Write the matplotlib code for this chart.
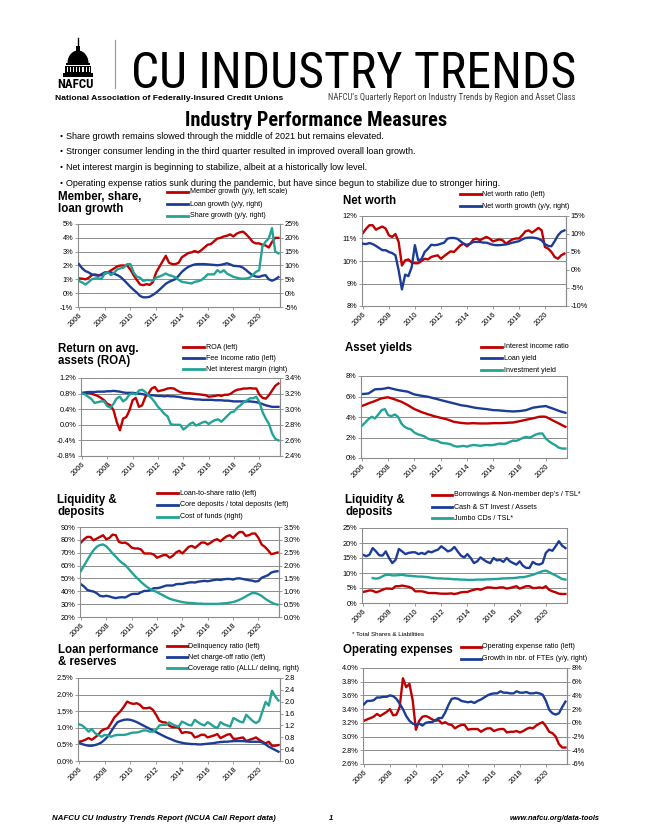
#!/usr/bin/env python3
"""
Recreate the NAFCU 'CU Industry Trends' page: eight small quarterly trend panels.
"""

import numpy as np
import matplotlib
matplotlib.use("Agg")
import matplotlib.pyplot as plt
from matplotlib import font_manager
from matplotlib.lines import Line2D
from matplotlib.patches import Rectangle, Polygon
from matplotlib.ticker import FuncFormatter

# ---------------------------------------------------------------------------
# Data: quarterly values, 2006Q1 .. 2021Q3 (one row per year)
# ---------------------------------------------------------------------------
YEAR_TICKS = [2006, 2008, 2010, 2012, 2014, 2016, 2018, 2020]

# Member, share, loan growth
member_growth = [1.07, 1.05, 1.00, 1.10, 1.30, 1.35, 1.30, 1.30, 1.40, 1.50, 1.65, 1.80,
                 1.95, 2.00, 2.00, 2.00, 1.70, 1.30, 0.95, 0.63, 0.58, 0.65, 0.60, 0.80,
                 1.50, 1.90, 2.30, 2.70, 2.20, 2.10, 2.10, 2.20, 2.60, 2.75, 2.90, 2.95,
                 3.05, 2.95, 3.10, 3.30, 3.50, 3.55, 3.75, 3.95, 4.00, 4.10, 4.15, 4.25,
                 4.10, 4.30, 4.40, 4.45, 4.25, 4.00, 3.70, 3.60, 3.60, 3.50, 3.45, 3.30,
                 3.70, 4.00, 4.00]
loan_growth = [10.5, 9.0, 8.0, 7.5, 6.8, 6.5, 6.3, 6.8, 7.5, 7.6, 7.5, 7.0,
               6.5, 5.8, 4.7, 3.5, 2.3, 1.2, 0.2, -1.0, -1.5, -1.5, -1.3, -0.6,
               0.2, 1.2, 2.3, 3.4, 4.1, 4.6, 5.1, 6.3, 7.7, 8.7, 9.5, 10.0,
               10.4, 10.5, 10.5, 10.5, 10.4, 10.3, 10.2, 10.1, 10.2, 10.5, 10.8, 10.4,
               9.9, 9.8, 9.7, 9.2, 8.3, 7.3, 6.5, 6.0, 5.9, 6.3, 6.5, 5.0,
               4.5, 5.0, 5.8]
share_growth = [4.4, 3.9, 3.1, 4.0, 5.0, 5.3, 5.4, 5.1, 7.1, 7.5, 6.5, 7.5,
                8.7, 9.0, 9.3, 10.5, 10.5, 7.5, 5.9, 5.6, 4.4, 4.8, 4.7, 4.5,
                5.6, 6.0, 6.5, 7.1, 6.5, 6.2, 5.7, 4.8, 4.1, 3.9, 3.7, 3.5,
                4.1, 4.3, 4.7, 5.6, 6.8, 6.8, 6.8, 8.3, 7.5, 8.3, 7.1, 6.5,
                5.9, 5.6, 5.3, 5.2, 5.3, 5.6, 6.5, 7.7, 8.3, 16.8, 18.6, 19.8,
                23.5, 15.0, 14.4]

# Net worth
net_worth_ratio = [11.24, 11.44, 11.59, 11.59, 11.39, 11.47, 11.53, 11.44, 11.14, 11.07, 11.20, 10.84,
                   9.80, 10.03, 10.07, 9.93, 9.90, 9.90, 10.00, 10.10, 10.07, 10.18, 10.22, 10.25,
                   10.10, 10.22, 10.33, 10.43, 10.40, 10.55, 10.70, 10.77, 10.65, 10.77, 10.96, 11.00,
                   10.92, 11.00, 11.07, 11.00, 10.87, 10.92, 10.96, 10.92, 10.77, 10.87, 10.96, 11.00,
                   11.00, 11.14, 11.32, 11.36, 11.26, 11.36, 11.47, 11.36, 10.62, 10.55, 10.40, 10.18,
                   10.10, 10.25, 10.33]
net_worth_growth = [7.3, 7.2, 7.5, 7.2, 6.7, 6.1, 5.5, 5.5, 5.0, 4.7, 4.1, -0.1,
                    -5.4, -1.3, -1.7, 0.8, 6.9, 2.7, 3.0, 5.0, 5.9, 7.0, 6.9, 7.0,
                    7.3, 7.6, 8.7, 8.9, 8.9, 8.7, 8.0, 7.3, 7.0, 7.3, 7.8, 7.8,
                    7.8, 7.6, 7.6, 7.3, 7.0, 6.9, 6.9, 7.0, 7.1, 7.3, 7.6, 7.8,
                    8.0, 8.5, 8.9, 9.0, 9.0, 8.9, 8.7, 8.2, 7.2, 6.7, 6.6, 8.0,
                    9.6, 10.6, 11.0]

# Return on average assets
roa = [0.80, 0.81, 0.82, 0.80, 0.77, 0.74, 0.69, 0.63, 0.54, 0.50, 0.37, 0.07,
       -0.14, 0.16, 0.20, 0.37, 0.63, 0.69, 0.46, 0.50, 0.71, 0.80, 0.93, 0.97,
       0.86, 0.88, 0.90, 0.93, 0.94, 0.93, 0.88, 0.84, 0.82, 0.81, 0.81, 0.80,
       0.79, 0.78, 0.77, 0.76, 0.72, 0.73, 0.74, 0.76, 0.74, 0.77, 0.77, 0.80,
       0.86, 0.90, 0.91, 0.93, 0.93, 0.94, 0.93, 0.93, 0.77, 0.69, 0.67, 0.76,
       0.88, 1.00, 1.06]
fee_income_ratio = [0.82, 0.83, 0.84, 0.84, 0.84, 0.85, 0.85, 0.85, 0.86, 0.86, 0.87, 0.86,
                    0.85, 0.83, 0.82, 0.82, 0.82, 0.81, 0.80, 0.79, 0.77, 0.76, 0.76, 0.75,
                    0.74, 0.74, 0.73, 0.74, 0.73, 0.73, 0.72, 0.71, 0.69, 0.68, 0.67, 0.66,
                    0.65, 0.65, 0.64, 0.64, 0.64, 0.64, 0.63, 0.63, 0.63, 0.62, 0.62, 0.61,
                    0.60, 0.60, 0.60, 0.60, 0.60, 0.60, 0.59, 0.58, 0.56, 0.53, 0.50, 0.48,
                    0.46, 0.46, 0.46]
net_interest_margin = [3.20, 3.19, 3.16, 3.13, 3.08, 3.09, 3.10, 3.10, 3.04, 3.02, 3.07, 3.14,
                       3.16, 3.10, 3.13, 3.19, 3.20, 3.19, 3.24, 3.25, 3.22, 3.18, 3.14, 3.09,
                       3.03, 2.99, 2.94, 2.91, 2.81, 2.80, 2.80, 2.80, 2.74, 2.77, 2.81, 2.83,
                       2.79, 2.81, 2.83, 2.84, 2.81, 2.84, 2.86, 2.87, 2.84, 2.88, 2.92, 2.96,
                       2.97, 3.02, 3.05, 3.09, 3.11, 3.14, 3.14, 3.16, 3.09, 2.96, 2.88, 2.81,
                       2.69, 2.62, 2.60]

# Asset yields
interest_income_ratio = [5.07, 5.20, 5.33, 5.45, 5.56, 5.70, 5.82, 5.88, 5.92, 5.82, 5.72, 5.60,
                         5.49, 5.32, 5.16, 4.96, 4.77, 4.64, 4.50, 4.39, 4.28, 4.18, 4.08, 4.00,
                         3.92, 3.84, 3.76, 3.65, 3.53, 3.48, 3.43, 3.40, 3.37, 3.38, 3.40, 3.38,
                         3.37, 3.37, 3.37, 3.38, 3.40, 3.40, 3.40, 3.41, 3.43, 3.45, 3.46, 3.52,
                         3.59, 3.66, 3.73, 3.80, 3.86, 3.94, 4.02, 4.04, 4.02, 3.86, 3.69, 3.53,
                         3.37, 3.20, 3.04]
loan_yield = [6.24, 6.26, 6.30, 6.50, 6.70, 6.72, 6.73, 6.78, 6.86, 6.78, 6.70, 6.63,
              6.57, 6.52, 6.47, 6.33, 6.20, 6.14, 6.08, 6.03, 5.98, 5.90, 5.82, 5.74,
              5.65, 5.57, 5.49, 5.41, 5.33, 5.25, 5.16, 5.11, 5.07, 5.00, 4.93, 4.88,
              4.84, 4.80, 4.77, 4.72, 4.67, 4.66, 4.64, 4.61, 4.58, 4.56, 4.54, 4.56,
              4.58, 4.62, 4.67, 4.78, 4.90, 4.95, 5.00, 5.03, 5.07, 4.95, 4.84, 4.72,
              4.60, 4.50, 4.41]
investment_yield = [3.14, 3.46, 3.79, 4.02, 3.86, 4.25, 4.67, 4.77, 4.18, 4.08, 4.25, 4.02,
                    3.37, 3.04, 2.88, 2.78, 2.48, 2.32, 2.22, 2.12, 1.90, 1.80, 1.73, 1.67,
                    1.50, 1.44, 1.41, 1.34, 1.18, 1.11, 1.14, 1.18, 1.11, 1.21, 1.27, 1.24,
                    1.18, 1.24, 1.27, 1.24, 1.27, 1.34, 1.41, 1.37, 1.41, 1.57, 1.70, 1.67,
                    1.80, 1.96, 2.06, 1.99, 2.12, 2.29, 2.39, 2.39, 1.90, 1.63, 1.41, 1.24,
                    1.01, 0.92, 0.92]

# Liquidity & deposits (left panel)
loan_to_share = [77.9, 80.5, 82.3, 82.3, 79.7, 81.0, 82.3, 83.6, 80.5, 81.5, 84.1, 83.6,
                 78.4, 77.6, 77.9, 76.4, 74.0, 73.3, 73.3, 72.5, 69.4, 69.4, 69.4, 68.6,
                 66.1, 67.1, 68.1, 68.1, 66.1, 67.6, 70.2, 71.5, 69.4, 72.0, 74.6, 75.3,
                 73.8, 75.8, 77.9, 77.9, 76.4, 77.9, 79.7, 80.5, 78.9, 81.0, 82.8, 83.6,
                 81.5, 84.1, 86.1, 86.1, 83.1, 83.6, 84.9, 84.9, 81.5, 76.4, 74.6, 72.0,
                 68.9, 69.4, 70.2]
core_deposits_share = [45.5, 43.7, 41.1, 40.3, 39.8, 38.5, 36.5, 36.0, 36.5, 36.0, 35.2, 34.7,
                       35.2, 35.4, 35.2, 36.5, 37.8, 38.0, 38.0, 39.3, 40.3, 40.3, 41.1, 42.4,
                       42.4, 42.9, 43.7, 44.5, 44.5, 44.5, 45.5, 45.7, 45.7, 46.3, 46.8, 47.0,
                       46.8, 47.5, 47.8, 48.1, 47.8, 48.3, 48.8, 49.1, 48.8, 49.3, 49.6, 49.6,
                       49.1, 49.9, 50.1, 49.6, 49.1, 48.6, 48.3, 47.6, 48.0, 50.5, 51.5, 52.5,
                       54.5, 55.3, 55.6]
cost_of_funds = [1.79, 2.00, 2.21, 2.42, 2.60, 2.73, 2.80, 2.82, 2.75, 2.62, 2.47, 2.35,
                 2.21, 2.10, 2.02, 1.88, 1.74, 1.60, 1.48, 1.36, 1.25, 1.16, 1.08, 1.02,
                 0.97, 0.90, 0.84, 0.77, 0.71, 0.67, 0.64, 0.61, 0.58, 0.56, 0.55, 0.54,
                 0.53, 0.52, 0.52, 0.51, 0.51, 0.51, 0.51, 0.51, 0.52, 0.53, 0.54, 0.56,
                 0.58, 0.62, 0.67, 0.73, 0.80, 0.87, 0.93, 0.93, 0.89, 0.82, 0.72, 0.64,
                 0.57, 0.51, 0.48]

# Liquidity & deposits (right panel)
borrowings_nonmember = [3.67, 3.90, 4.20, 4.10, 3.55, 3.90, 4.40, 4.80, 4.80, 4.70, 5.60, 5.60,
                        5.80, 5.60, 5.40, 5.00, 3.90, 3.90, 3.90, 3.67, 3.33, 3.33, 3.33, 3.20,
                        3.10, 3.10, 3.10, 3.20, 3.00, 3.20, 3.55, 3.67, 3.67, 4.10, 4.40, 4.70,
                        4.40, 4.80, 5.20, 5.20, 5.00, 5.00, 5.20, 5.20, 4.80, 5.00, 5.30, 5.60,
                        4.80, 5.20, 5.60, 5.60, 5.00, 5.00, 5.20, 5.00, 5.60, 4.40, 3.90, 3.55,
                        3.10, 3.00, 3.00]
cash_st_invest = [16.1, 15.6, 16.1, 18.3, 17.2, 15.9, 15.8, 17.2, 15.0, 13.3, 14.4, 18.0,
                  17.2, 16.3, 16.7, 16.9, 16.9, 16.3, 16.7, 16.3, 17.2, 16.9, 17.4, 17.8,
                  18.9, 18.1, 17.2, 17.6, 18.7, 17.2, 15.8, 15.2, 16.3, 15.0, 13.3, 13.9,
                  15.2, 14.4, 13.7, 13.3, 15.0, 14.2, 14.4, 13.7, 15.0, 13.9, 13.3, 12.8,
                  13.9, 12.4, 11.7, 11.7, 13.7, 13.0, 12.8, 13.3, 16.7, 17.8, 17.4, 18.9,
                  20.6, 19.1, 18.3]
jumbo_cds = [np.nan, np.nan, np.nan, 8.3, 8.1, 8.3, 8.9, 9.4, 9.4, 9.2, 9.2, 9.3,
             9.4, 9.2, 9.1, 9.0, 8.9, 8.8, 8.8, 8.7, 8.6, 8.4, 8.3, 8.2,
             8.2, 8.1, 8.1, 8.0, 7.9, 7.9, 7.8, 7.8, 7.7, 7.7, 7.7, 7.8,
             7.8, 7.8, 7.9, 7.9, 8.0, 8.0, 8.1, 8.2, 8.2, 8.3, 8.3, 8.4,
             8.6, 8.6, 8.8, 9.1, 9.4, 9.8, 10.2, 10.6, 10.8, 10.3, 9.7, 9.2,
             8.6, 8.0, 7.8]

# Loan performance & reserves
delinquency_ratio = [0.58, 0.60, 0.64, 0.69, 0.64, 0.71, 0.79, 0.91, 0.96, 0.99, 1.14, 1.31,
                     1.41, 1.51, 1.64, 1.79, 1.74, 1.72, 1.74, 1.69, 1.59, 1.59, 1.61, 1.54,
                     1.39, 1.21, 1.17, 1.16, 1.07, 1.02, 1.02, 1.01, 0.84, 0.87, 0.86, 0.84,
                     0.71, 0.74, 0.79, 0.79, 0.71, 0.74, 0.77, 0.81, 0.69, 0.74, 0.79, 0.81,
                     0.67, 0.67, 0.69, 0.71, 0.60, 0.64, 0.67, 0.71, 0.64, 0.58, 0.53, 0.58,
                     0.46, 0.46, 0.48]
net_chargeoff_ratio = [0.55, 0.51, 0.48, 0.46, 0.46, 0.48, 0.51, 0.56, 0.64, 0.74, 0.89, 1.04,
                       1.17, 1.21, 1.24, 1.25, 1.24, 1.21, 1.17, 1.12, 1.07, 1.02, 0.97, 0.92,
                       0.87, 0.82, 0.77, 0.72, 0.68, 0.64, 0.60, 0.57, 0.55, 0.53, 0.52, 0.51,
                       0.51, 0.50, 0.50, 0.51, 0.52, 0.53, 0.54, 0.56, 0.57, 0.58, 0.58, 0.59,
                       0.60, 0.60, 0.60, 0.60, 0.59, 0.58, 0.58, 0.58, 0.58, 0.56, 0.50, 0.43,
                       0.38, 0.33, 0.28]
coverage_ratio = [1.24, 1.20, 1.11, 0.99, 1.08, 0.94, 0.88, 0.82, 0.88, 0.86, 0.82, 0.86,
                  0.88, 0.88, 0.88, 0.90, 0.94, 0.96, 0.96, 0.99, 1.03, 1.03, 0.99, 0.99,
                  1.05, 1.20, 1.22, 1.22, 1.30, 1.24, 1.19, 1.16, 1.33, 1.28, 1.22, 1.20,
                  1.39, 1.31, 1.24, 1.20, 1.31, 1.24, 1.16, 1.11, 1.31, 1.24, 1.20, 1.16,
                  1.45, 1.39, 1.33, 1.30, 1.56, 1.45, 1.35, 1.28, 1.35, 1.67, 1.99, 1.87,
                  2.37, 2.18, 2.04]

# Operating expenses
opex_ratio = [3.23, 3.25, 3.27, 3.29, 3.33, 3.30, 3.33, 3.36, 3.40, 3.31, 3.32, 3.43,
              3.85, 3.72, 3.77, 3.53, 3.10, 3.23, 3.29, 3.30, 3.28, 3.25, 3.23, 3.24,
              3.19, 3.21, 3.18, 3.17, 3.12, 3.15, 3.17, 3.17, 3.10, 3.11, 3.11, 3.11,
              3.07, 3.10, 3.12, 3.12, 3.08, 3.10, 3.11, 3.11, 3.06, 3.07, 3.07, 3.08,
              3.06, 3.08, 3.11, 3.13, 3.12, 3.16, 3.19, 3.21, 3.15, 3.07, 3.05, 3.00,
              2.89, 2.84, 2.84]
fte_growth = [2.7, 3.2, 3.2, 3.3, 3.7, 3.7, 3.8, 3.8, 4.0, 3.9, 3.5, 2.8,
              2.0, 1.0, 0.3, -0.1, -0.3, -0.1, -0.4, 0.0, 0.1, 0.1, 0.4, 0.7,
              0.7, 1.5, 2.6, 3.5, 3.6, 3.5, 3.2, 3.1, 3.0, 3.1, 2.9, 3.2,
              3.4, 3.7, 4.0, 4.2, 4.3, 4.3, 4.6, 4.4, 4.4, 4.3, 4.3, 4.6,
              4.4, 4.4, 4.5, 4.3, 4.3, 4.4, 4.3, 4.1, 3.2, 1.9, 1.4, 1.2,
              1.4, 2.3, 3.1]

BULLETS = [
    "Share growth remains slowed through the middle of 2021 but remains elevated.",
    "Stronger consumer lending in the third quarter resulted in improved overall loan growth.",
    "Net interest margin is beginning to stabilize, albeit at a historically low level.",
    "Operating expense ratios sunk during the pandemic, but have since begun to stabilize due to stronger hiring.",
]

# ---------------------------------------------------------------------------
# Styling
# ---------------------------------------------------------------------------
W, H = 647, 839
RED = "#C00000"
BLUE = "#1C3D97"
TEAL = "#23A396"
AXIS_GRAY = "#8C8C8C"
LW = 1.7
TICK_FS = 5.3
LEG_FS = 5.1
TITLE_FS = 8.3
BASE_FONT = "Liberation Sans"


def find_narrow_font():
    """Pick an installed condensed sans face for the masthead, if there is one."""
    names = {f.name for f in font_manager.fontManager.ttflist}
    for name in ("Liberation Sans Narrow", "Roboto Condensed", "Open Sans Condensed",
                 "DejaVu Sans Condensed", "Noto Sans Condensed"):
        if name in names:
            return name, "normal"
    condensed = [f for f in font_manager.fontManager.ttflist
                 if f.stretch in ("condensed", "semi-condensed", "extra-condensed")
                 or "ondensed" in f.fname or "Narrow" in f.fname]
    if condensed:
        return condensed[0].name, condensed[0].stretch
    return BASE_FONT, "normal"


NARROW, NARROW_STRETCH = find_narrow_font()


def pct(decimals, sign=True):
    suffix = "%" if sign else ""
    return FuncFormatter(lambda v, _: f"{v:.{decimals}f}{suffix}")


def tick_values(lo, hi, step):
    n = int(round((hi - lo) / step))
    return [round(lo + i * step, 6) for i in range(n + 1)]


def quarters(values):
    return 2006 + np.arange(len(values)) / 4


def fit_width(fig, txt, width_px):
    """Scale a text's font size so it spans width_px pixels."""
    renderer = fig.canvas.get_renderer()
    w = txt.get_window_extent(renderer).width
    txt.set_fontsize(txt.get_fontsize() * width_px / w)
    return txt.get_fontsize()


def draw_panel(fig, box, left, left_lim, left_step, left_fmt,
               right=None, right_lim=None, right_step=None, right_fmt=None):
    l, t, r, b = box
    ax = fig.add_axes([l / W, 1 - b / H, (r - l) / W, (b - t) / H])
    for values, color in left:
        ax.plot(quarters(values), values, color=color, lw=LW, solid_joinstyle="round")
    ax.set_xlim(2005.93, 2021.62)
    ax.set_ylim(*left_lim)
    ax.set_yticks(tick_values(left_lim[0], left_lim[1], left_step))
    ax.yaxis.set_major_formatter(left_fmt)
    ax.yaxis.grid(True, color=AXIS_GRAY, lw=0.7)
    ax.set_axisbelow(True)

    ax.set_xticks(YEAR_TICKS)
    ax.set_xticklabels([str(y) for y in YEAR_TICKS], rotation=45, ha="right",
                       va="top", rotation_mode="anchor")
    ax.tick_params(axis="x", length=2, width=0.6, color=AXIS_GRAY, labelsize=TICK_FS, pad=1.5)
    ax.tick_params(axis="y", length=2, width=0.6, color=AXIS_GRAY, labelsize=TICK_FS, pad=1.5)
    for side in ("left", "bottom", "right"):
        ax.spines[side].set_color(AXIS_GRAY)
        ax.spines[side].set_linewidth(0.8)
    ax.spines["top"].set_visible(False)

    if right is not None:
        twin = ax.twinx()
        for values, color in right:
            twin.plot(quarters(values), values, color=color, lw=LW, solid_joinstyle="round")
        twin.set_ylim(*right_lim)
        twin.set_yticks(tick_values(right_lim[0], right_lim[1], right_step))
        twin.yaxis.set_major_formatter(right_fmt)
        twin.tick_params(axis="y", length=2, width=0.6, color=AXIS_GRAY,
                         labelsize=TICK_FS, pad=1.5)
        for side in ("left", "top", "bottom"):
            twin.spines[side].set_visible(False)
        twin.spines["right"].set_color(AXIS_GRAY)
        twin.spines["right"].set_linewidth(0.8)
    return ax


def draw_legend(ov, x0, x1, entries, ys):
    for (label, color), y in zip(entries, ys):
        ov.add_line(Line2D([x0, x1], [y, y], color=color, lw=2.0))
        ov.text(x1 + 1.5, y, label, fontsize=LEG_FS, va="center", ha="left")


def draw_title(ov, x, y, text):
    ov.text(x, y, text, fontsize=TITLE_FS, fontweight="bold", va="top", ha="left",
            linespacing=1.05)


def main():
    plt.rcParams["font.family"] = [BASE_FONT, "DejaVu Sans"]
    fig = plt.figure(figsize=(W / 100, H / 100), dpi=100)

    # --- chart panels (pixel boxes: left, top, right, bottom) ---
    draw_panel(fig, (78, 224, 280, 307),
               [(member_growth, RED)], (-1, 5), 1, pct(0),
               [(loan_growth, BLUE), (share_growth, TEAL)], (-5, 25), 5, pct(0))
    draw_panel(fig, (362, 216, 566, 306),
               [(net_worth_ratio, RED)], (8, 12), 1, pct(0),
               [(net_worth_growth, BLUE)], (-10, 15), 5, pct(0))
    draw_panel(fig, (81, 378, 280, 456),
               [(roa, RED), (fee_income_ratio, BLUE)], (-0.8, 1.2), 0.4, pct(1),
               [(net_interest_margin, TEAL)], (2.4, 3.4), 0.2, pct(1))
    draw_panel(fig, (361, 376, 567, 458),
               [(interest_income_ratio, RED), (loan_yield, BLUE), (investment_yield, TEAL)],
               (0, 8), 2, pct(0))
    draw_panel(fig, (80, 527, 279, 617),
               [(loan_to_share, RED), (core_deposits_share, BLUE)], (20, 90), 10, pct(0),
               [(cost_of_funds, TEAL)], (0, 3.5), 0.5, pct(1))
    draw_panel(fig, (362, 528, 567, 603),
               [(borrowings_nonmember, RED), (cash_st_invest, BLUE), (jumbo_cds, TEAL)],
               (0, 25), 5, pct(0))
    draw_panel(fig, (78, 678, 280, 761),
               [(delinquency_ratio, RED), (net_chargeoff_ratio, BLUE)], (0, 2.5), 0.5, pct(1),
               [(coverage_ratio, TEAL)], (0, 2.8), 0.4, pct(1, sign=False))
    draw_panel(fig, (363, 668, 567, 764),
               [(opex_ratio, RED)], (2.6, 4.0), 0.2, pct(1),
               [(fte_growth, BLUE)], (-6, 8), 2, pct(0))

    # --- page overlay in pixel coordinates ---
    ov = fig.add_axes([0, 0, 1, 1], zorder=5)
    ov.set_xlim(0, W)
    ov.set_ylim(H, 0)
    ov.axis("off")

    # logo: capitol dome
    ov.add_line(Line2D([78, 78], [38, 48], color="black", lw=1.0))
    ov.add_patch(Rectangle((76, 46), 4, 5, color="black", lw=0))
    theta = np.linspace(0, np.pi, 40)
    ov.add_patch(Polygon(np.column_stack([78 + 10.5 * np.cos(theta), 63 - 12.5 * np.sin(theta)]),
                         closed=True, color="black", lw=0))
    ov.add_patch(Rectangle((66, 63), 24, 2, color="black", lw=0))
    ov.add_patch(Rectangle((65, 65.5), 26, 7.5, color="black", lw=0))
    for i in range(8):
        ov.add_patch(Rectangle((66.6 + i * 3.15, 66.5), 1.3, 5.5, color="white", lw=0))
    ov.add_patch(Rectangle((63, 73), 30, 3.5, color="black", lw=0))
    nafcu = ov.text(57, 88, "NAFCU", family=[NARROW, BASE_FONT], stretch=NARROW_STRETCH,
                    fontweight="bold", fontsize=10, va="baseline", ha="left")
    fit_width(fig, nafcu, 36)
    ov.add_line(Line2D([115, 115], [40, 88], color="#A0A0A0", lw=0.9))

    # masthead
    head = ov.text(131, 88, "CU INDUSTRY TRENDS", family=[NARROW, BASE_FONT],
                   stretch=NARROW_STRETCH, fontsize=40, va="baseline", ha="left")
    fit_width(fig, head, 444)
    sub_l = ov.text(55, 98, "National Association of Federally-Insured Credit Unions",
                    fontweight="bold", fontsize=5, va="center", ha="left")
    fit_width(fig, sub_l, 227)
    sub_r = ov.text(575, 98,
                    "NAFCU\u2019s Quarterly Report on Industry Trends by Region and Asset Class",
                    family=[NARROW, BASE_FONT], stretch=NARROW_STRETCH, color="#444444",
                    fontsize=5, va="center", ha="right")
    fit_width(fig, sub_r, 250)

    heading = ov.text(316, 120, "Industry Performance Measures", family=[NARROW, BASE_FONT],
                      stretch=NARROW_STRETCH, fontweight="bold", fontsize=12,
                      va="center", ha="center")
    fit_width(fig, heading, 262)

    # bullets: size set from the longest line, then applied to all
    bullet_ys = [136.5, 152, 167.5, 183]
    texts = []
    for text, y in zip(BULLETS, bullet_ys):
        ov.text(60, y, "\u2022", fontsize=6, va="center", ha="left")
        texts.append(ov.text(66, y, text, fontsize=6, va="center", ha="left"))
    size = fit_width(fig, texts[-1], 437)
    for t in texts:
        t.set_fontsize(size)

    # panel titles
    draw_title(ov, 58, 191, "Member, share,\nloan growth")
    draw_title(ov, 343, 195, "Net worth")
    draw_title(ov, 58, 343, "Return on avg.\nassets (ROA)")
    draw_title(ov, 345, 342, "Asset yields")
    draw_title(ov, 57, 494, "Liquidity &\ndeposits")
    draw_title(ov, 345, 494, "Liquidity &\ndeposits")
    draw_title(ov, 58, 644, "Loan performance\n& reserves")
    draw_title(ov, 343, 644, "Operating expenses")

    # legends
    draw_legend(ov, 167, 188, [("Member growth (y/y, left scale)", RED),
                               ("Loan growth (y/y, right)", BLUE),
                               ("Share growth (y/y, right)", TEAL)], [191.7, 204.3, 215.7])
    draw_legend(ov, 460, 481, [("Net worth ratio (left)", RED),
                               ("Net worth growth (y/y, right)", BLUE)], [194, 206])
    draw_legend(ov, 183, 204, [("ROA (left)", RED),
                               ("Fee Income ratio (left)", BLUE),
                               ("Net interest margin (right)", TEAL)], [347.3, 358.3, 369.3])
    draw_legend(ov, 481, 502, [("Interest income ratio", RED),
                               ("Loan yield", BLUE),
                               ("Investment yield", TEAL)], [346.7, 358.3, 370])
    draw_legend(ov, 157, 178, [("Loan-to-share ratio (left)", RED),
                               ("Core deposits / total deposits (left)", BLUE),
                               ("Cost of funds (right)", TEAL)], [493.3, 505, 516.7])
    draw_legend(ov, 432, 452, [("Borrowings & Non-member dep\u2019s / TSL*", RED),
                               ("Cash & ST Invest / Assets", BLUE),
                               ("Jumbo CDs / TSL*", TEAL)], [495, 507.3, 518.3])
    draw_legend(ov, 167, 187, [("Delinquency ratio (left)", RED),
                               ("Net charge-off ratio (left)", BLUE),
                               ("Coverage ratio (ALLL/ delinq, right)", TEAL)], [646, 657.3, 668.3])
    draw_legend(ov, 461, 481, [("Operating expense ratio (left)", RED),
                               ("Growth in nbr. of FTEs (y/y, right)", BLUE)], [646.7, 659])

    ov.text(352, 634, "* Total Shares & Liabilities", fontsize=4.5, va="center", ha="left")

    # footer
    foot = ov.text(52, 818, "NAFCU CU Industry Trends Report (NCUA Call Report data)",
                   fontweight="bold", style="italic", fontsize=5.5, va="center", ha="left")
    fit_width(fig, foot, 222)
    ov.text(331, 818, "1", fontweight="bold", style="italic", fontsize=5.5,
            va="center", ha="center")
    url = ov.text(600, 818, "www.nafcu.org/data-tools", fontweight="bold", style="italic",
                  fontsize=5.5, va="center", ha="right")
    fit_width(fig, url, 90)

    fig.savefig("out.png", dpi=100, facecolor="white")


if __name__ == "__main__":
    main()
